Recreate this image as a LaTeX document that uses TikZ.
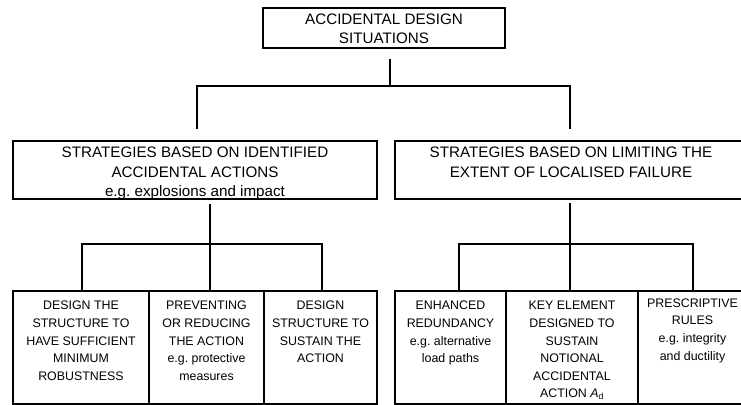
\documentclass[tikz,border=0pt]{standalone}
\usepackage{fontspec}
\setmainfont{Liberation Sans}
\usepackage{tikz}

\newcommand{\celltext}[4]{%
  \begin{minipage}[t][#2][t]{#1}\centering
  \vspace*{#3}\strut #4\par\vfill
  \end{minipage}}

\begin{document}
\begin{tikzpicture}[x=1pt, y=-1pt,
    cell/.style={draw=black, line width=2pt, inner sep=0pt, anchor=north west},
    bigtext/.style={font=\fontsize{15.2}{19.5}\selectfont},
    smalltext/.style={font=\fontsize{12.4}{17.6}\selectfont},
    link/.style={draw=black, line width=2pt}]
    \useasboundingbox (0,0) rectangle (741,404);
    \clip (0,0) rectangle (741,404);

    \node[cell, bigtext] (acc) at (262,7) {\celltext{242pt}{40pt}{2.5pt}{ACCIDENTAL DESIGN\\SITUATIONS}};

    \node[cell, bigtext] (idact) at (12,140) {\celltext{364pt}{58pt}{3pt}{STRATEGIES BASED ON IDENTIFIED\\ACCIDENTAL ACTIONS\\e.g.\ explosions and impact}};

    \node[cell, bigtext] (limit) at (394,140) {\celltext{352pt}{58pt}{3pt}{STRATEGIES BASED ON LIMITING THE\\EXTENT OF LOCALISED FAILURE}};

    \node[cell, smalltext] (robust) at (12,290) {\celltext{136pt}{113pt}{6.5pt}{DESIGN THE\\STRUCTURE TO\\HAVE SUFFICIENT\\MINIMUM\\ROBUSTNESS}};

    \node[cell, smalltext] (prevent) at (148,290) {\celltext{115pt}{113pt}{6.5pt}{PREVENTING\\OR REDUCING\\THE ACTION\\e.g.\ protective\\measures}};

    \node[cell, smalltext] (sustain) at (263,290) {\celltext{113pt}{113pt}{6.5pt}{DESIGN\\STRUCTURE TO\\SUSTAIN THE\\ACTION}};

    \node[cell, smalltext] (redund) at (394,290) {\celltext{111pt}{113pt}{6.5pt}{ENHANCED\\REDUNDANCY\\e.g.\ alternative\\load paths}};

    \node[cell, smalltext] (keyel) at (505,290) {\celltext{132pt}{113pt}{6.5pt}{KEY ELEMENT\\DESIGNED TO\\SUSTAIN\\NOTIONAL\\ACCIDENTAL\\ACTION \textit{A}\textsubscript{d}}};

    \node[cell, smalltext] (rules) at (637,290) {\celltext{109pt}{113pt}{4pt}{PRESCRIPTIVE\\RULES\\e.g.\ integrity\\and ductility}};

    \coordinate (top) at (390,86);
    \coordinate (topl) at (197,86);
    \coordinate (topr) at (570,86);
    \coordinate (midl) at (210,244);
    \coordinate (midl1) at (82,244);
    \coordinate (midl3) at (322,244);
    \coordinate (midr) at (570,244);
    \coordinate (midr1) at (459,244);
    \coordinate (midr3) at (693,244);

    \draw[link, shorten <=10pt] (acc.south -| top) -- (top);
    \draw[link, shorten <=11pt, shorten >=11pt] (idact.north -| topl) -- (topl) -- (topr) -- (limit.north -| topr);

    \draw[link, shorten <=4pt] (idact.south -| midl) -- (midl);
    \draw[link] (robust.north -| midl1) -- (midl1) -- (midl3) -- (sustain.north -| midl3);
    \draw[link] (midl) -- (prevent.north -| midl);

    \draw[link, shorten <=3pt] (limit.south -| midr) -- (midr);
    \draw[link] (redund.north -| midr1) -- (midr1) -- (midr3) -- (rules.north -| midr3);
    \draw[link] (midr) -- (keyel.north -| midr);
\end{tikzpicture}
\end{document}
